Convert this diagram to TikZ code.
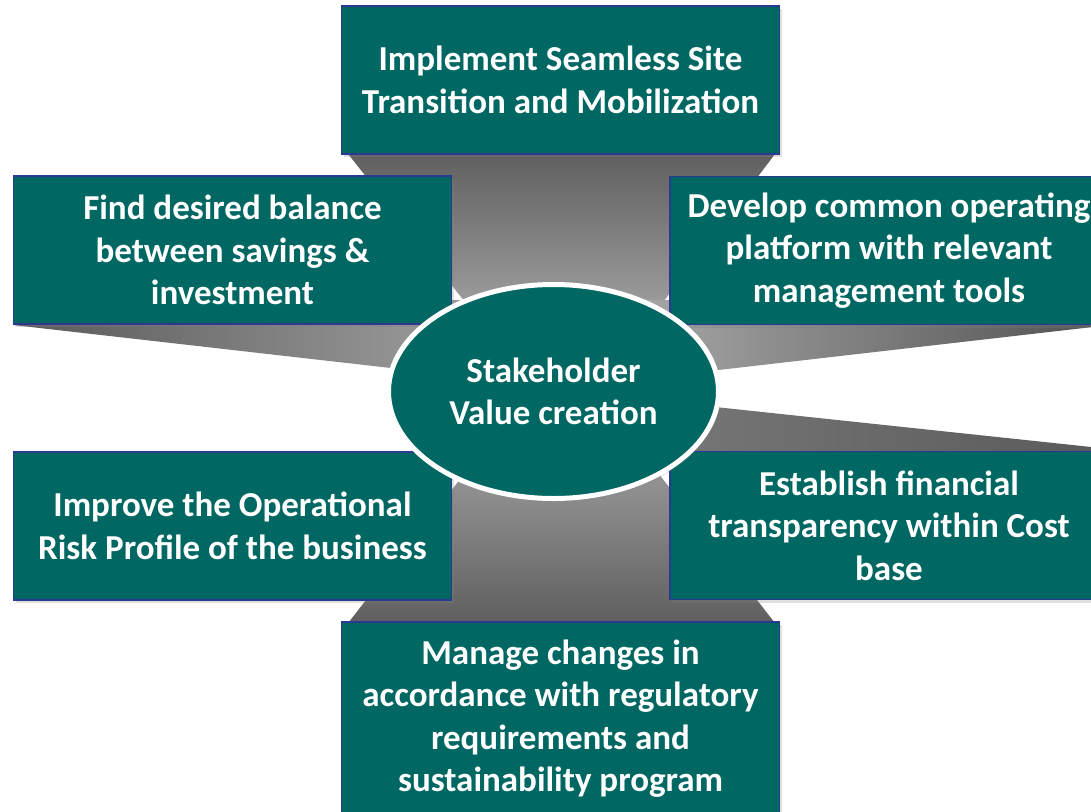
\documentclass[tikz,border=0pt]{standalone}
\usepackage{fontspec}
\setmainfont{Carlito}
\usetikzlibrary{shapes.geometric,shadows}
\definecolor{tealbox}{HTML}{006762}
\definecolor{navyedge}{HTML}{2B3990}
\definecolor{beamA}{HTML}{5E5E5E}
\definecolor{beamB}{HTML}{A6A6A6}
\definecolor{beamC}{HTML}{999999}
\definecolor{beamD}{HTML}{5A5A5A}
\definecolor{beamE}{HTML}{9D9D9D}
\definecolor{beamF}{HTML}{A6A6A6}
\definecolor{beamG}{HTML}{515151}
\definecolor{beamH}{HTML}{787878}
\definecolor{beamI}{HTML}{5A5A5A}
\begin{document}
\begin{tikzpicture}[x=1pt,y=-1pt,
  goalbox/.style={rectangle, fill=tealbox, draw=navyedge, line width=1.5pt,
    minimum width=438pt, minimum height=148pt, inner sep=0pt, text=white,
    align=center, font=\bfseries\fontsize{35}{42.5}\selectfont,
    drop shadow={shadow xshift=2pt, shadow yshift=-3pt, opacity=0.25}},
  hub/.style={ellipse, fill=tealbox, draw=white, line width=5pt,
    minimum width=330pt, minimum height=214pt, inner sep=0pt, text=white,
    align=center, font=\bfseries\fontsize{35}{42.5}\selectfont,
    drop shadow={shadow xshift=2pt, shadow yshift=-3pt, opacity=0.2}}]
\useasboundingbox (0,0) rectangle (1091,811);
\fill[white] (0,0) rectangle (1091,811);
% beams
\shade[top color=beamA, bottom color=beamB] (345,150) -- (778,150) -- (642,330) -- (487,330) -- cycle;
\shade[top color=beamC, bottom color=beamA] (475,460) -- (648,460) -- (778,627) -- (345,627) -- cycle;
\shade[left color=beamD, right color=beamE] (13,300) -- (470,300) -- (470,377) -- (13,325) -- cycle;
\shade[left color=beamF, right color=beamG] (640,300) -- (1110,300) -- (1110,325) -- (640,379) -- cycle;
\shade[left color=beamH, right color=beamI] (640,399) -- (1110,449) -- (1110,470) -- (640,470) -- cycle;
% goal boxes
\node[goalbox] (top) at (560.5,80) {Implement Seamless Site\\Transition and Mobilization};
\node[goalbox] (tl) at (232.5,250) {Find desired balance\\between savings \&\\investment};
\node[goalbox] (tr) at (889,250.5) {Develop common operating\\platform with relevant\\management tools};
\node[goalbox] (bl) at (232.5,526) {Improve the Operational\\Risk Profile of the business};
\node[goalbox] (br) at (889,525.5) {Establish financial\\transparency within Cost\\base};
\node[goalbox, minimum height=193pt] (bot) at (560.5,718.5) {Manage changes in\\accordance with regulatory\\requirements and\\sustainability program};
% hub
\node[hub] (hubnode) at (553.5,391.5) {Stakeholder\\Value creation};
\end{tikzpicture}
\end{document}
